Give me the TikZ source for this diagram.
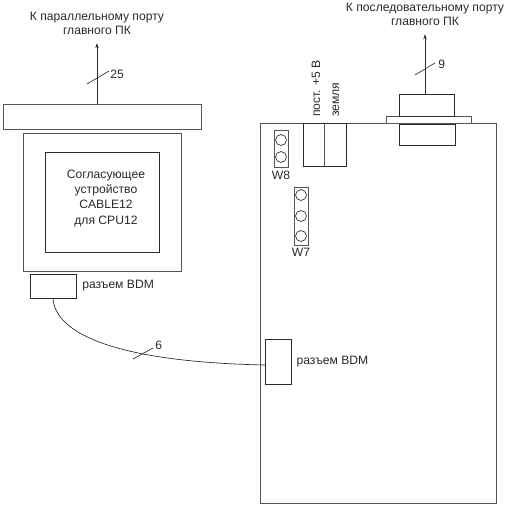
\documentclass[tikz,border=0pt]{standalone}
\usepackage{fontspec}
\setmainfont{Liberation Sans}
\usetikzlibrary{arrows.meta,positioning}
\definecolor{lnblack}{HTML}{2A2A2A}
\definecolor{lngray}{HTML}{555555}

\begin{document}
\begin{tikzpicture}[x=0.75pt, y=-0.75pt,
  pxbox/.style 2 args={draw=lngray, line width=0.6pt, fill=white, inner sep=0pt, outer sep=0pt,
               minimum width=#1*0.75pt, minimum height=#2*0.75pt},
  pin/.style={circle, draw=lnblack, line width=0.5pt, inner sep=0pt, minimum size=8.2pt},
  lbl/.style={font=\fontsize{9.1}{10.6}\selectfont, text=lnblack, align=center, inner sep=0pt},
  arr/.style={-{Stealth[length=4pt,width=2.6pt]}, line width=0.6pt, lnblack},
  wire/.style={line width=0.5pt, lnblack}
]
\useasboundingbox (0,0) rectangle (509,507);

% parallel side
\node[pxbox={198}{25}, anchor=north west] (bar) at (3,104) {};
\node[pxbox={158}{138}, below=3pt of bar] (cable) {};
\node[pxbox={114}{100}, draw=lnblack] (inner) at (cable.center) {};
\node[lbl, xshift=3pt, yshift=3pt] (innertxt) at (inner.center) {Согласующее\\[0.9pt]устройство\\[0.9pt]CABLE12\\[0.9pt]для CPU12};
\node[pxbox={46}{24}, anchor=north west, draw=lnblack] (bdmA) at (30,274) {};
\node[lbl, right=4.5pt of bdmA] (bdmAtxt) {разъем BDM};
\node[lbl] (partxt) at (97,23) {К параллельному порту\\главного ПК};
\coordinate (parbot) at (97,104);
\coordinate (partop) at (97,43);
\coordinate (tickAa) at (87,84);
\coordinate (tickAb) at (109,71);
\node[lbl, anchor=west] (cnt25) at (110,74) {25};

% board
\node[pxbox={236}{380}, anchor=north west] (board) at (260,123) {};
\node[pxbox={85}{7}, anchor=north west] (flange) at (386,116) {};
\node[pxbox={55}{22}, anchor=south west, draw=lnblack] (dbup) at (399,116) {};
\node[pxbox={56}{21}, anchor=north west, draw=lnblack] (dblow) at (399,124) {};
\node[lbl] (sertxt) at (425,14.5) {К последовательному порту\\главного ПК};
\coordinate (sertop) at (425,34);
\coordinate (tickBa) at (415,75);
\coordinate (tickBb) at (435,63);
\node[lbl, anchor=west] (cnt9) at (438,64) {9};

% power terminal
\node[pxbox={43}{43}, anchor=north west, draw=lnblack] (term) at (303,123) {};
\node[lbl, rotate=90, anchor=west] (plustxt) at (316,117) {пост. +5 В};
\node[lbl, rotate=90, anchor=west] (gndtxt) at (336,117) {земля};

% jumpers
\node[pxbox={14}{37}, anchor=north west] (w8) at (274,130) {};
\node[pin] (w8a) at (281,140) {};
\node[pin] (w8b) at (281,157) {};
\node[lbl, below=3pt of w8] (w8txt) {W8};
\node[pxbox={14}{58}, anchor=north west] (w7) at (294,187) {};
\node[pin] (w7a) at (301,195) {};
\node[pin] (w7b) at (301,216) {};
\node[pin] (w7c) at (301,236) {};
\node[lbl, below=2.5pt of w7] (w7txt) {W7};

% BDM on board
\node[pxbox={26}{45}, anchor=north west, draw=lnblack] (bdmB) at (265,339) {};
\node[lbl, right=4pt of bdmB] (bdmBtxt) {разъем BDM};
\coordinate (tickCa) at (133,359);
\coordinate (tickCb) at (153,348);
\node[lbl, anchor=west] (cnt6) at (155,345) {6};

\draw[arr] (parbot) -- (partop);
\draw[wire] (tickAa) -- (tickAb);
\draw[arr] (dbup.north -| sertop) -- (sertop);
\draw[wire] (tickBa) -- (tickBb);
\draw[draw=lngray, line width=0.6pt] (term.north) -- (term.south);
\draw[wire] (tickCa) -- (tickCb);
\draw[wire] (bdmA.south) .. controls (55,335) and (120,362) .. (bdmB.west |- 0,365);
\end{tikzpicture}
\end{document}
